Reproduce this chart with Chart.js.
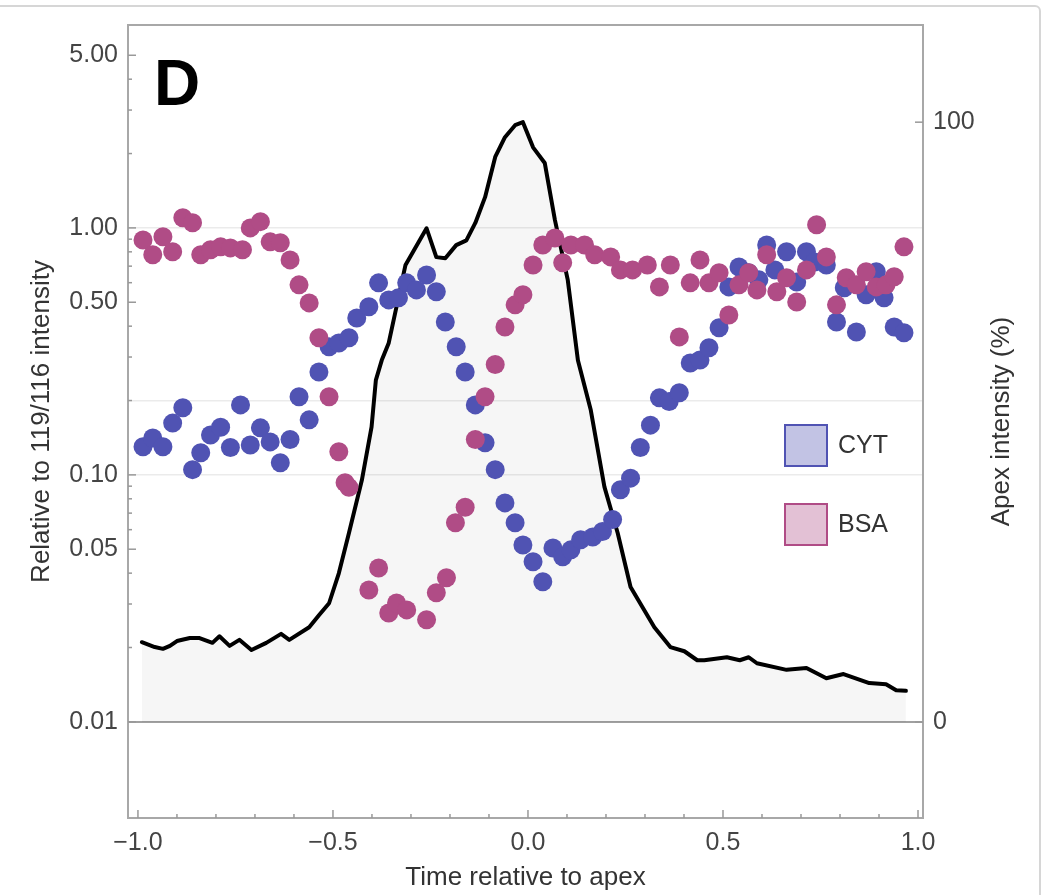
<!DOCTYPE html>
<html>
<head>
<meta charset="utf-8">
<script src="https://cdn.jsdelivr.net/npm/chart.js@4"></script>
<style>
  body { margin: 0; background: #fff; overflow: hidden; }
  #wrap { position: relative; width: 1046px; height: 895px; overflow: hidden; }
  #frame { position: absolute; left: -6px; top: 5px; width: 1047px; height: 900px;
           border: 2px solid #d6d6d6; border-radius: 6px; box-sizing: border-box; pointer-events: none; }
  canvas { position: absolute; left: 0; top: 0; }
</style>
</head>
<body>
<div id="wrap">
  <canvas id="chartCanvas" width="1046" height="895"></canvas>
  <div id="frame"></div>
</div>
<script>
// ---- data ----
// apex trace (right axis, %)
const apexTime = [-0.990, -0.957, -0.936, -0.918, -0.900, -0.867, -0.842, -0.809, -0.791, -0.765, -0.740, -0.709,
  -0.671, -0.633, -0.612, -0.561, -0.536, -0.510, -0.485, -0.459, -0.426, -0.401, -0.390, -0.375, -0.357, -0.314,
  -0.260, -0.235, -0.212, -0.184, -0.158, -0.135, -0.110, -0.084, -0.059, -0.033, -0.013, 0.013, 0.043, 0.069,
  0.102, 0.128, 0.161, 0.196, 0.230, 0.263, 0.324, 0.365, 0.401, 0.434, 0.452, 0.510, 0.543, 0.566, 0.587,
  0.663, 0.714, 0.765, 0.809, 0.875, 0.918, 0.944, 0.969];
const apexIntensity = [13.3, 12.5, 12.2, 12.7, 13.5, 14.0, 14.0, 13.2, 14.3, 12.7, 13.7, 12.0,
  13.2, 14.7, 13.7, 15.8, 17.8, 19.8, 24.8, 31.5, 40.3, 49.2, 57.0, 60.3, 63.2, 76.2,
  82.3, 77.5, 77.3, 79.5, 80.3, 83.2, 87.5, 94.2, 97.5, 99.5, 100.0, 95.8, 93.2, 83.7,
  73.7, 60.3, 52.0, 39.2, 31.5, 22.5, 15.8, 12.5, 11.8, 10.3, 10.3, 10.8, 10.3, 10.8, 9.8,
  8.7, 9.0, 7.3, 8.0, 6.5, 6.3, 5.3, 5.2];

// CYT ratio (left axis, log)
const cytTime = [-0.987, -0.962, -0.936, -0.911, -0.885, -0.860, -0.839, -0.814, -0.788, -0.763, -0.737, -0.712,
  -0.686, -0.661, -0.635, -0.610, -0.587, -0.561, -0.536, -0.510, -0.485, -0.459, -0.439, -0.408, -0.383,
  -0.357, -0.332, -0.311, -0.286, -0.260, -0.235, -0.212, -0.184, -0.161, -0.135, -0.110, -0.084, -0.059,
  -0.033, -0.013, 0.013, 0.038, 0.064, 0.089, 0.110, 0.135, 0.166, 0.191, 0.217, 0.237, 0.263, 0.288,
  0.314, 0.337, 0.362, 0.388, 0.416, 0.441, 0.464, 0.490, 0.515, 0.541, 0.566, 0.592, 0.612, 0.633,
  0.663, 0.689, 0.714, 0.735, 0.765, 0.791, 0.811, 0.842, 0.867, 0.893, 0.913, 0.939, 0.964];
const cytRatio = [0.130, 0.141, 0.130, 0.162, 0.187, 0.105, 0.123, 0.145, 0.156, 0.129, 0.192, 0.132,
  0.155, 0.136, 0.112, 0.139, 0.207, 0.167, 0.261, 0.330, 0.342, 0.359, 0.432, 0.479, 0.599,
  0.511, 0.521, 0.599, 0.561, 0.645, 0.551, 0.416, 0.330, 0.261, 0.192, 0.135, 0.105, 0.077,
  0.064, 0.052, 0.0445, 0.0369, 0.0506, 0.0466, 0.0497, 0.0546, 0.056, 0.059, 0.066, 0.087, 0.097, 0.129,
  0.159, 0.205, 0.198, 0.215, 0.284, 0.292, 0.327, 0.394, 0.577, 0.695, 0.658, 0.616, 0.853, 0.676,
  0.80, 0.604, 0.80, 0.728, 0.708, 0.416, 0.572, 0.379, 0.536, 0.664, 0.521, 0.397, 0.376];

// BSA ratio (left axis, log)
const bsaTime = [-0.987, -0.962, -0.936, -0.911, -0.885, -0.860, -0.839, -0.814, -0.788, -0.763, -0.732, -0.712,
  -0.686, -0.661, -0.635, -0.610, -0.587, -0.561, -0.536, -0.510, -0.485, -0.469, -0.459, -0.408, -0.383,
  -0.357, -0.337, -0.311, -0.260, -0.235, -0.209, -0.186, -0.161, -0.135, -0.110, -0.084, -0.059, -0.033,
  -0.013, 0.013, 0.038, 0.069, 0.089, 0.110, 0.145, 0.171, 0.212, 0.237, 0.268, 0.306, 0.337, 0.365,
  0.388, 0.416, 0.441, 0.464, 0.490, 0.515, 0.541, 0.566, 0.587, 0.612, 0.638, 0.663, 0.689, 0.714,
  0.740, 0.765, 0.791, 0.816, 0.842, 0.867, 0.893, 0.918, 0.939, 0.964];
const bsaRatio = [0.894, 0.778, 0.92, 0.80, 1.10, 1.05, 0.778, 0.815, 0.838, 0.830, 0.815, 1.00,
  1.06, 0.878, 0.870, 0.742, 0.588, 0.497, 0.359, 0.207, 0.124, 0.093, 0.089, 0.0342, 0.042,
  0.0276, 0.0303, 0.0284, 0.0259, 0.0333, 0.0383, 0.064, 0.074, 0.139, 0.207, 0.28, 0.397, 0.488,
  0.536, 0.708, 0.853, 0.91, 0.722, 0.853, 0.853, 0.778, 0.763, 0.676, 0.676, 0.708, 0.577, 0.708,
  0.362, 0.599, 0.742, 0.599, 0.658, 0.444, 0.588, 0.658, 0.561, 0.778, 0.551, 0.628, 0.501, 0.676,
  1.03, 0.763, 0.488, 0.628, 0.588, 0.664, 0.577, 0.588, 0.634, 0.838];

// ticks
const xTicks = [-1.0, -0.9, -0.8, -0.7, -0.6, -0.5, -0.4, -0.3, -0.2, -0.1, 0.0, 0.1, 0.2, 0.3, 0.4, 0.5, 0.6, 0.7, 0.8, 0.9, 1.0];
const xLabeled = [-1.0, -0.5, 0.0, 0.5, 1.0];
const yTicks = [0.01, 0.02, 0.03, 0.04, 0.05, 0.06, 0.07, 0.08, 0.09, 0.1, 0.2, 0.3, 0.4, 0.5, 0.6, 0.7, 0.8, 0.9, 1, 2, 3, 4, 5];
const yLabels = { 0.01: "0.01", 0.05: "0.05", 0.1: "0.10", 0.5: "0.50", 1: "1.00", 5: "5.00" };
const yGridLines = [0.1, 0.2, 1];
const rightTicks = [0, 100];

const cytColor = "#5053b3";
const bsaColor = "#b04c86";
const fontFamily = "'Liberation Sans', Arial, Helvetica, sans-serif";
Chart.defaults.font.family = fontFamily;

// ---- plugins: inner tick marks, frame, legend, right title, panel letter ----
const decorPlugin = {
  id: "decor",
  afterDatasetsDraw(chart) {
    const { ctx, chartArea: a, scales } = chart;
    ctx.save();
    ctx.strokeStyle = "#a8a8a8";
    ctx.lineWidth = 2;
    ctx.strokeRect(a.left, a.top, a.right - a.left, a.bottom - a.top);

    ctx.lineWidth = 1.5;
    ctx.strokeStyle = "#999";
    scales.y.ticks.forEach(t => {
      const py = scales.y.getPixelForValue(t.value);
      const len = yLabels[t.value] ? 8 : 4;
      ctx.beginPath(); ctx.moveTo(a.left, py); ctx.lineTo(a.left + len, py); ctx.stroke();
    });
    scales.x.ticks.forEach(t => {
      const px = scales.x.getPixelForValue(t.value);
      const len = xLabeled.some(v => Math.abs(v - t.value) < 1e-6) ? 8 : 4;
      ctx.beginPath(); ctx.moveTo(px, a.bottom); ctx.lineTo(px, a.bottom - len); ctx.stroke();
    });
    scales.y2.ticks.forEach(t => {
      const py = scales.y2.getPixelForValue(t.value);
      ctx.beginPath(); ctx.moveTo(a.right, py); ctx.lineTo(a.right - 8, py); ctx.stroke();
    });

    // legend
    const items = [["CYT", cytColor, 425], ["BSA", bsaColor, 504]];
    items.forEach(([label, color, top]) => {
      const left = a.right - 138;
      ctx.globalAlpha = 0.35;
      ctx.fillStyle = color;
      ctx.fillRect(left, top, 42, 41);
      ctx.globalAlpha = 1;
      ctx.strokeStyle = color;
      ctx.lineWidth = 2;
      ctx.strokeRect(left, top, 42, 41);
      ctx.fillStyle = "#333";
      ctx.font = "25px " + fontFamily;
      ctx.textBaseline = "middle";
      ctx.textAlign = "left";
      ctx.fillText(label, left + 53, top + 21);
    });

    // right axis title, reading bottom to top
    ctx.save();
    ctx.translate(scales.y2.right - 44, (a.top + a.bottom) / 2);
    ctx.rotate(-Math.PI / 2);
    ctx.fillStyle = "#333";
    ctx.font = "26px " + fontFamily;
    ctx.textAlign = "center";
    ctx.textBaseline = "middle";
    ctx.fillText("Apex intensity (%)", 0, 0);
    ctx.restore();

    // panel letter
    ctx.fillStyle = "#000";
    ctx.font = "bold 64px " + fontFamily;
    ctx.textAlign = "left";
    ctx.textBaseline = "alphabetic";
    ctx.fillText("D", 154, 105);
    ctx.restore();
  }
};

const ctx = document.getElementById("chartCanvas").getContext("2d");
new Chart(ctx, {
  type: "scatter",
  data: {
    datasets: [
      {
        label: "BSA",
        data: bsaTime.map((t, i) => ({ x: t, y: bsaRatio[i] })),
        yAxisID: "y",
        backgroundColor: bsaColor,
        pointRadius: 9.5,
        pointBorderWidth: 0,
        order: 1
      },
      {
        label: "CYT",
        data: cytTime.map((t, i) => ({ x: t, y: cytRatio[i] })),
        yAxisID: "y",
        backgroundColor: cytColor,
        pointRadius: 9.5,
        pointBorderWidth: 0,
        order: 2
      },
      {
        type: "line",
        label: "Apex",
        data: apexTime.map((t, i) => ({ x: t, y: apexIntensity[i] })),
        yAxisID: "y2",
        borderColor: "#000",
        borderWidth: 4,
        borderJoinStyle: "round",
        borderCapStyle: "round",
        pointRadius: 0,
        showLine: true,
        tension: 0,
        fill: "origin",
        backgroundColor: "rgba(0,0,0,0.035)",
        order: 3
      }
    ]
  },
  options: {
    responsive: false,
    animation: false,
    layout: { padding: { top: 25, left: 0, right: 0, bottom: 0 } },
    plugins: { legend: { display: false }, tooltip: { enabled: false } },
    scales: {
      x: {
        type: "linear",
        min: -1.0255,
        max: 1.0128,
        afterBuildTicks: s => { s.ticks = xTicks.map(v => ({ value: v })); },
        afterFit: s => { s.height = 77; },
        grid: { display: false, drawTicks: false },
        border: { display: false },
        ticks: {
          autoSkip: false,
          maxRotation: 0,
          padding: 10,
          color: "#444",
          font: { size: 25 },
          callback: v => xLabeled.some(l => Math.abs(l - v) < 1e-6) ? v.toFixed(1).replace("-", "\u2212") : ""
        },
        title: { display: true, text: "Time relative to apex", color: "#333", font: { size: 26 }, padding: { bottom: 2 } }
      },
      y: {
        type: "logarithmic",
        position: "left",
        min: 0.00408,
        max: 6.63,
        afterBuildTicks: s => { s.ticks = yTicks.map(v => ({ value: v })); },
        afterFit: s => { s.width = 128; },
        grid: {
          drawTicks: false,
          lineWidth: c => (c.tick && c.tick.value === 0.01 ? 2 : 1.5),
          color: c => {
            if (!c.tick) return "rgba(0,0,0,0)";
            if (c.tick.value === 0.01) return "#a0a0a0";
            return yGridLines.includes(c.tick.value) ? "#ebebeb" : "rgba(0,0,0,0)";
          }
        },
        border: { display: false },
        ticks: {
          autoSkip: false,
          padding: 10,
          color: "#444",
          font: { size: 25 },
          callback: v => yLabels[v] || ""
        },
        title: { display: true, text: "Relative to 119/116 intensity", color: "#333", font: { size: 26 }, padding: { top: 26 } }
      },
      y2: {
        type: "linear",
        position: "right",
        min: -16,
        max: 116.2,
        afterBuildTicks: s => { s.ticks = rightTicks.map(v => ({ value: v })); },
        afterFit: s => { s.width = 123; },
        grid: { display: false, drawTicks: false },
        border: { display: false },
        ticks: { padding: 10, color: "#444", font: { size: 25 }, callback: v => String(v) },
        title: { display: false }
      }
    }
  },
  plugins: [decorPlugin]
});
</script>
</body>
</html>
